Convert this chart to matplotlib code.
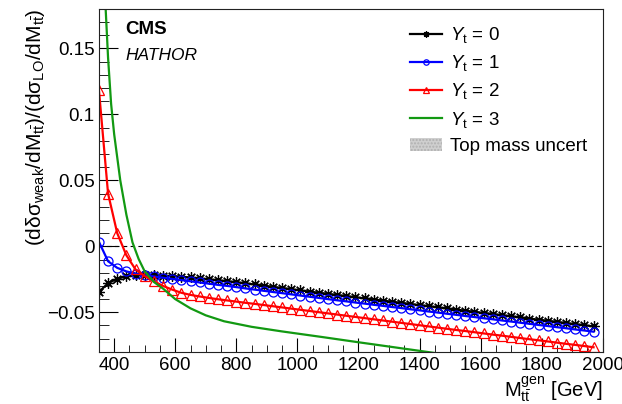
import matplotlib
matplotlib.use('Agg')
import matplotlib.pyplot as plt
from matplotlib.patches import Patch
from matplotlib.ticker import MultipleLocator, FuncFormatter

plt.rcParams['font.family'] = ['Liberation Sans', 'DejaVu Sans']
plt.rcParams['mathtext.fontset'] = 'custom'
plt.rcParams['mathtext.rm'] = 'Liberation Sans'
plt.rcParams['mathtext.it'] = 'Liberation Sans:italic'
plt.rcParams['mathtext.bf'] = 'Liberation Sans:bold'

# bin centres (GeV) of the marked curves
mtt = list(range(350, 2000, 30))

yt0 = [-0.0345, -0.0280, -0.0245, -0.0228, -0.0220, -0.0218, -0.0218, -0.0221, -0.0225, -0.0230,
       -0.0236, -0.0243, -0.0250, -0.0257, -0.0264, -0.0272, -0.0280, -0.0289, -0.0298, -0.0307,
       -0.0316, -0.0325, -0.0334, -0.0343, -0.0352, -0.0360, -0.0369, -0.0377, -0.0386, -0.0394,
       -0.0403, -0.0411, -0.0420, -0.0428, -0.0437, -0.0445, -0.0454, -0.0462, -0.0471, -0.0479,
       -0.0488, -0.0496, -0.0505, -0.0513, -0.0522, -0.0530, -0.0539, -0.0547, -0.0556, -0.0564,
       -0.0573, -0.0581, -0.0590, -0.0598, -0.0607]

yt1 = [0.0035, -0.0113, -0.0163, -0.0190, -0.0206, -0.0218, -0.0228, -0.0238, -0.0247, -0.0256,
       -0.0265, -0.0274, -0.0283, -0.0292, -0.0300, -0.0309, -0.0319, -0.0328, -0.0337, -0.0346,
       -0.0355, -0.0364, -0.0373, -0.0382, -0.0391, -0.0400, -0.0409, -0.0417, -0.0426, -0.0434,
       -0.0443, -0.0451, -0.0460, -0.0468, -0.0477, -0.0485, -0.0494, -0.0502, -0.0511, -0.0519,
       -0.0528, -0.0536, -0.0545, -0.0553, -0.0562, -0.0570, -0.0579, -0.0587, -0.0596, -0.0604,
       -0.0613, -0.0621, -0.0630, -0.0638, -0.0647]

yt2 = [0.1188, 0.0400, 0.0100, -0.0068, -0.0175, -0.0226, -0.0265, -0.0300, -0.0328, -0.0352,
       -0.0368, -0.0380, -0.0391, -0.0401, -0.0410, -0.0419, -0.0428, -0.0436, -0.0445, -0.0454,
       -0.0463, -0.0472, -0.0481, -0.0490, -0.0499, -0.0508, -0.0517, -0.0526, -0.0535, -0.0544,
       -0.0553, -0.0562, -0.0571, -0.0580, -0.0589, -0.0598, -0.0607, -0.0616, -0.0625, -0.0634,
       -0.0642, -0.0651, -0.0660, -0.0669, -0.0677, -0.0686, -0.0695, -0.0704, -0.0712, -0.0721,
       -0.0730, -0.0739, -0.0747, -0.0756, -0.0765]

# Y_t = 3 is drawn as a plain curve
mtt_g = [350, 360, 370, 380, 390, 400, 420, 440, 460, 480, 500, 530, 560, 600, 650, 700,
         760, 850, 950, 1080, 1200, 1400, 1600, 1800, 2000]
yt3 = [0.33, 0.245, 0.19, 0.143, 0.108, 0.085, 0.050, 0.024, 0.003, -0.0095, -0.019, -0.027,
       -0.032, -0.040, -0.047, -0.0523, -0.0568, -0.0610, -0.0645, -0.0687, -0.0727, -0.0792,
       -0.0858, -0.0924, -0.0990]

green = '#129912'

fig = plt.figure(figsize=(6.22, 4.04), dpi=100)
ax = fig.add_axes([0.159, 0.129, 0.810, 0.849])

ax.axhline(0, color='k', lw=0.8, dashes=(4, 3))
ax.plot(mtt, yt0, color='k', lw=1.6, marker=(8, 2, 0), ms=7.5, mew=0.9, label=r'$\mathit{Y}_{\mathrm{t}}$ = 0')
ax.plot(mtt, yt1, color='#0000ff', lw=1.6, marker='o', ms=6.5, mfc='none', mew=0.9, label=r'$\mathit{Y}_{\mathrm{t}}$ = 1')
ax.plot(mtt, yt2, color='#ff0000', lw=1.6, marker='^', ms=6.5, mfc='none', mew=0.9, label=r'$\mathit{Y}_{\mathrm{t}}$ = 2')
ax.plot(mtt_g, yt3, color=green, lw=1.6, label=r'$\mathit{Y}_{\mathrm{t}}$ = 3')

ax.set_xlim(350, 2000)
ax.set_ylim(-0.08, 0.18)

ax.xaxis.set_major_locator(MultipleLocator(200))
ax.xaxis.set_minor_locator(MultipleLocator(50))
ax.yaxis.set_major_locator(MultipleLocator(0.05))
ax.yaxis.set_minor_locator(MultipleLocator(0.01))
ax.yaxis.set_major_formatter(FuncFormatter(lambda v, p: ('%g' % round(v, 3)).replace('-', '\u2212')))
ax.tick_params(axis='both', which='both', direction='in', labelsize=13.5, top=False, right=False)
ax.tick_params(axis='x', which='major', length=10, pad=4)
ax.tick_params(axis='x', which='minor', length=5)
ax.tick_params(axis='y', which='major', length=14, pad=3)
ax.tick_params(axis='y', which='minor', length=7)
for s in ax.spines.values():
    s.set_linewidth(0.8)
    s.set_color('#222222')

ax.set_ylabel(r'$(\mathrm{d\delta\sigma}_{\mathrm{weak}}/\mathrm{dM}_{\mathrm{t}\bar{\mathrm{t}}})/(\mathrm{d\sigma}_{\mathrm{LO}}/\mathrm{dM}_{\mathrm{t}\bar{\mathrm{t}}})$',
              fontsize=15, loc='top')
ax.yaxis.set_label_coords(-0.103, 1.0)
ax.set_xlabel(r'$\mathrm{M}^{\mathrm{gen}}_{\mathrm{t}\bar{\mathrm{t}}}$ [GeV]', fontsize=14.5, loc='right')
ax.xaxis.set_label_coords(1.0, -0.066)

ax.text(0.052, 0.94, 'CMS', transform=ax.transAxes, fontsize=13.5, fontweight='bold', va='center')
ax.text(0.052, 0.865, 'HATHOR', transform=ax.transAxes, fontsize=12.5, style='italic', va='center')

handles, labels = ax.get_legend_handles_labels()
band = Patch(facecolor='#cfcfcf', edgecolor='#b0b0b0', hatch='.....', lw=0)
handles.append(band)
labels.append('Top mass uncert')
ax.legend(handles, labels, loc='upper left', bbox_to_anchor=(0.617, 0.952), frameon=False,
          fontsize=13.5, handlelength=1.7, handletextpad=0.45, labelspacing=0.43,
          borderpad=0, borderaxespad=0, markerscale=0.6)

fig.savefig('out.png', dpi=100)
